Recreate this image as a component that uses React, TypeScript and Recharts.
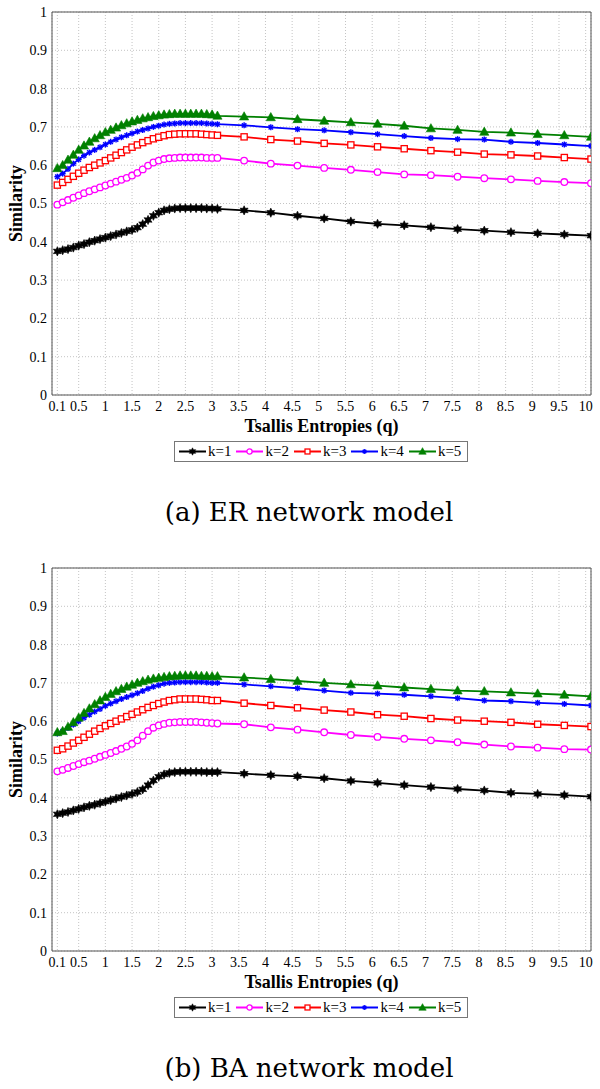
import React from 'react';
import { LineChart, Line, XAxis, YAxis, CartesianGrid, Legend, Label } from 'recharts';

const Q = [0.1, 0.2, 0.3, 0.4, 0.5, 0.6, 0.7, 0.8, 0.9, 1.0, 1.1, 1.2, 1.3, 1.4, 1.5, 1.6, 1.7, 1.8, 1.9, 2.0, 2.1, 2.2, 2.3, 2.4, 2.5, 2.6, 2.7, 2.8, 2.9, 3.0, 3.1, 3.6, 4.1, 4.6, 5.1, 5.6, 6.1, 6.6, 7.1, 7.6, 8.1, 8.6, 9.1, 9.6, 10.1];

const X_MAJOR = [0.1, 0.5, 1, 1.5, 2, 2.5, 3, 3.5, 4, 4.5, 5, 5.5, 6, 6.5, 7, 7.5, 8, 8.5, 9, 9.5, 10];
const X_MINOR = [0.1, 0.25, 0.5, 0.75, 1, 1.25, 1.5, 1.75, 2, 2.25, 2.5, 2.75, 3, 3.25, 3.5, 3.75, 4, 4.25, 4.5, 4.75, 5, 5.25, 5.5, 5.75, 6, 6.25, 6.5, 6.75, 7, 7.25, 7.5, 7.75, 8, 8.25, 8.5, 8.75, 9, 9.25, 9.5, 9.75, 10];
const Y_MAJOR = [0, 0.1, 0.2, 0.3, 0.4, 0.5, 0.6, 0.7, 0.8, 0.9, 1];
const Y_MINOR = [0, 0.05, 0.1, 0.15, 0.2, 0.25, 0.3, 0.35, 0.4, 0.45, 0.5, 0.55, 0.6, 0.65, 0.7, 0.75, 0.8, 0.85, 0.9, 0.95, 1];

// (a) ER network model
const ER_K1 = [0.375, 0.378, 0.381, 0.385, 0.390, 0.394, 0.399, 0.403, 0.407, 0.411, 0.415, 0.419, 0.423, 0.427, 0.431, 0.437, 0.446, 0.457, 0.468, 0.476, 0.482, 0.485, 0.487, 0.488, 0.488, 0.488, 0.488, 0.488, 0.487, 0.487, 0.486, 0.482, 0.476, 0.468, 0.461, 0.453, 0.447, 0.443, 0.438, 0.433, 0.429, 0.425, 0.422, 0.419, 0.416];
const ER_K2 = [0.497, 0.503, 0.509, 0.515, 0.521, 0.527, 0.532, 0.537, 0.542, 0.547, 0.552, 0.557, 0.562, 0.567, 0.573, 0.580, 0.589, 0.599, 0.607, 0.612, 0.616, 0.618, 0.619, 0.620, 0.620, 0.620, 0.620, 0.620, 0.619, 0.619, 0.619, 0.612, 0.604, 0.599, 0.593, 0.588, 0.582, 0.576, 0.574, 0.570, 0.566, 0.563, 0.559, 0.556, 0.553];
const ER_K3 = [0.548, 0.555, 0.563, 0.571, 0.579, 0.587, 0.594, 0.600, 0.606, 0.612, 0.619, 0.626, 0.633, 0.640, 0.647, 0.653, 0.659, 0.664, 0.669, 0.673, 0.677, 0.680, 0.681, 0.682, 0.682, 0.682, 0.682, 0.681, 0.680, 0.679, 0.678, 0.674, 0.667, 0.663, 0.657, 0.653, 0.648, 0.643, 0.638, 0.634, 0.629, 0.627, 0.624, 0.620, 0.616];
const ER_K4 = [0.570, 0.578, 0.590, 0.604, 0.615, 0.625, 0.633, 0.640, 0.647, 0.654, 0.661, 0.667, 0.673, 0.678, 0.683, 0.688, 0.692, 0.696, 0.700, 0.703, 0.706, 0.708, 0.709, 0.710, 0.710, 0.710, 0.710, 0.710, 0.709, 0.708, 0.707, 0.704, 0.699, 0.694, 0.691, 0.686, 0.681, 0.676, 0.671, 0.668, 0.667, 0.661, 0.658, 0.654, 0.650];
const ER_K5 = [0.592, 0.600, 0.614, 0.627, 0.640, 0.651, 0.661, 0.670, 0.678, 0.686, 0.692, 0.698, 0.704, 0.709, 0.714, 0.718, 0.722, 0.725, 0.728, 0.730, 0.732, 0.733, 0.734, 0.734, 0.734, 0.734, 0.734, 0.734, 0.733, 0.732, 0.729, 0.727, 0.725, 0.720, 0.716, 0.712, 0.708, 0.703, 0.696, 0.692, 0.687, 0.685, 0.681, 0.678, 0.674];

// (b) BA network model
const BA_K1 = [0.357, 0.360, 0.363, 0.367, 0.371, 0.375, 0.379, 0.382, 0.386, 0.390, 0.394, 0.398, 0.402, 0.406, 0.410, 0.415, 0.422, 0.433, 0.445, 0.455, 0.461, 0.465, 0.467, 0.468, 0.468, 0.468, 0.468, 0.468, 0.467, 0.467, 0.467, 0.463, 0.459, 0.456, 0.451, 0.444, 0.439, 0.433, 0.428, 0.423, 0.419, 0.413, 0.410, 0.407, 0.403];
const BA_K2 = [0.469, 0.473, 0.478, 0.483, 0.488, 0.493, 0.497, 0.502, 0.507, 0.512, 0.517, 0.522, 0.528, 0.534, 0.541, 0.550, 0.562, 0.574, 0.583, 0.589, 0.593, 0.596, 0.597, 0.598, 0.598, 0.598, 0.598, 0.597, 0.596, 0.595, 0.594, 0.592, 0.584, 0.578, 0.571, 0.564, 0.559, 0.554, 0.550, 0.545, 0.539, 0.534, 0.531, 0.527, 0.526];
const BA_K3 = [0.524, 0.528, 0.535, 0.543, 0.550, 0.558, 0.566, 0.574, 0.581, 0.588, 0.594, 0.600, 0.606, 0.612, 0.618, 0.624, 0.630, 0.636, 0.641, 0.646, 0.650, 0.654, 0.656, 0.658, 0.658, 0.658, 0.658, 0.657, 0.656, 0.654, 0.654, 0.647, 0.641, 0.635, 0.629, 0.624, 0.617, 0.613, 0.607, 0.603, 0.600, 0.597, 0.592, 0.589, 0.586];
const BA_K4 = [0.568, 0.574, 0.582, 0.591, 0.600, 0.609, 0.617, 0.625, 0.632, 0.640, 0.646, 0.652, 0.658, 0.663, 0.668, 0.673, 0.679, 0.685, 0.690, 0.694, 0.698, 0.700, 0.701, 0.702, 0.702, 0.702, 0.702, 0.702, 0.701, 0.700, 0.700, 0.696, 0.691, 0.686, 0.680, 0.674, 0.672, 0.669, 0.665, 0.660, 0.654, 0.652, 0.648, 0.645, 0.641];
const BA_K5 = [0.571, 0.574, 0.585, 0.597, 0.609, 0.621, 0.633, 0.644, 0.654, 0.663, 0.671, 0.678, 0.684, 0.690, 0.695, 0.700, 0.704, 0.708, 0.711, 0.713, 0.715, 0.717, 0.718, 0.719, 0.719, 0.719, 0.719, 0.718, 0.718, 0.717, 0.717, 0.714, 0.710, 0.705, 0.700, 0.696, 0.693, 0.688, 0.684, 0.680, 0.678, 0.675, 0.672, 0.669, 0.665];

const SERIES_KEYS = ['k1', 'k2', 'k3', 'k4', 'k5'];
const SERIES_NAMES = ['k=1', 'k=2', 'k=3', 'k=4', 'k=5'];
const SERIES_COLORS = ['#000000', '#ff00ff', '#ff0000', '#0000ff', '#008000'];
const SERIES_MARKERS = ['hexagram', 'circle', 'square', 'asterisk', 'triangle'];

const CAPTION_A = '(a) ER network model';
const CAPTION_B = '(b) BA network model';
const X_TITLE = 'Tsallis Entropies (q)';
const Y_TITLE = 'Similarity';

const SERIF = '"Liberation Serif", "Times New Roman", serif';
const AXIS_COLOR = '#555';

function buildRows(series: number[][]) {
  return Q.map((q, i) => {
    const row: any = { q };
    SERIES_KEYS.forEach((k, j) => {
      row[k] = series[j][i];
    });
    return row;
  });
}

function Marker({ kind, cx, cy, color, s = 1 }: { kind: string; cx: number; cy: number; color: string; s?: number }) {
  if (cx == null || cy == null || isNaN(cx) || isNaN(cy)) return null;
  switch (kind) {
    case 'hexagram': {
      const ro = 4.6 * s;
      const ri = 2.4 * s;
      const pts: string[] = [];
      for (let i = 0; i < 12; i++) {
        const a = ((-90 + i * 30) * Math.PI) / 180;
        const r = i % 2 === 0 ? ro : ri;
        pts.push(`${cx + r * Math.cos(a)},${cy + r * Math.sin(a)}`);
      }
      return <polygon points={pts.join(' ')} fill={color} stroke={color} strokeWidth={0.6} />;
    }
    case 'circle':
      return <circle cx={cx} cy={cy} r={3.3 * s} fill="#fff" stroke={color} strokeWidth={1.3} />;
    case 'square': {
      const h = 3.1 * s;
      return <rect x={cx - h} y={cy - h} width={2 * h} height={2 * h} fill="#fff" stroke={color} strokeWidth={1.3} />;
    }
    case 'asterisk': {
      const r = 3 * s;
      const d = 2.2 * s;
      return (
        <g stroke={color} strokeWidth={1.4}>
          <line x1={cx - r} y1={cy} x2={cx + r} y2={cy} />
          <line x1={cx} y1={cy - r} x2={cx} y2={cy + r} />
          <line x1={cx - d} y1={cy - d} x2={cx + d} y2={cy + d} />
          <line x1={cx - d} y1={cy + d} x2={cx + d} y2={cy - d} />
        </g>
      );
    }
    case 'triangle': {
      const pts = `${cx},${cy - 4.8 * s} ${cx - 4.6 * s},${cy + 3.4 * s} ${cx + 4.6 * s},${cy + 3.4 * s}`;
      return <polygon points={pts} fill={color} stroke={color} strokeWidth={0.6} />;
    }
    default:
      return null;
  }
}

function XTick(props: any) {
  const { x, y, payload } = props;
  return (
    <text x={x} y={y} dy="0.71em" textAnchor="middle" style={{ fontFamily: SERIF, fontSize: 14, fill: '#000' }}>
      {String(payload.value)}
    </text>
  );
}

function YTick(props: any) {
  const { x, y, payload } = props;
  return (
    <text x={x} y={y} dy="0.355em" textAnchor="end" style={{ fontFamily: SERIF, fontSize: 14, fill: '#000' }}>
      {String(payload.value)}
    </text>
  );
}

function LegendBox() {
  return (
    <div
      style={{
        boxSizing: 'border-box',
        width: 294,
        height: 21,
        border: '1px solid #777',
        background: '#fff',
        display: 'flex',
        alignItems: 'center',
        paddingLeft: 4,
        fontFamily: SERIF,
        fontSize: 15,
        color: '#000',
      }}
    >
      {SERIES_KEYS.map((k, i) => (
        <div key={k} style={{ display: 'flex', alignItems: 'center', marginRight: i < 4 ? 5 : 0 }}>
          <svg width={27} height={19} style={{ display: 'block' }}>
            <line x1={0} y1={9.5} x2={27} y2={9.5} stroke={SERIES_COLORS[i]} strokeWidth={2} />
            <Marker kind={SERIES_MARKERS[i]} cx={13.5} cy={9.5} color={SERIES_COLORS[i]} s={0.8} />
          </svg>
          <span style={{ marginLeft: 2, lineHeight: '19px' }}>{SERIES_NAMES[i]}</span>
        </div>
      ))}
    </div>
  );
}

function Panel({ top, series, caption }: { top: number; series: number[][]; caption: string }) {
  const rows = buildRows(series);
  const titleStyle = { fontFamily: SERIF, fontSize: 18, fontWeight: 'bold', fill: '#000' } as any;
  return (
    <div style={{ position: 'absolute', left: 0, top, width: 600, height: 540 }}>
      <LineChart width={600} height={470} data={rows} margin={{ top: 12, right: 9, bottom: 35, left: 0 }}>
        <CartesianGrid stroke="#c4c4c4" strokeDasharray="1 2" xAxisId={0} yAxisId={0} />
        <XAxis
          xAxisId={0}
          dataKey="q"
          type="number"
          domain={[0, 10.1]}
          allowDataOverflow
          ticks={X_MAJOR}
          interval={0}
          tickLine={false}
          tickSize={0}
          tickMargin={6}
          height={40}
          axisLine={{ stroke: AXIS_COLOR }}
          tick={<XTick />}
        >
          <Label value={X_TITLE} position="insideBottom" offset={3} style={titleStyle} />
        </XAxis>
        <XAxis
          xAxisId="bm"
          type="number"
          domain={[0, 10.1]}
          allowDataOverflow
          ticks={X_MINOR}
          interval={0}
          orientation="bottom"
          mirror
          tick={false}
          tickSize={4}
          axisLine={false}
          tickLine={{ stroke: AXIS_COLOR }}
        />
        <XAxis
          xAxisId="tm"
          type="number"
          domain={[0, 10.1]}
          allowDataOverflow
          ticks={X_MINOR}
          interval={0}
          orientation="top"
          mirror
          tick={false}
          tickSize={4}
          axisLine={{ stroke: AXIS_COLOR }}
          tickLine={{ stroke: AXIS_COLOR }}
        />
        <YAxis
          yAxisId={0}
          type="number"
          domain={[0, 1]}
          allowDataOverflow
          ticks={Y_MAJOR}
          interval={0}
          width={52}
          tickLine={false}
          tickSize={0}
          tickMargin={5}
          axisLine={{ stroke: AXIS_COLOR }}
          tick={<YTick />}
        >
          <Label value={Y_TITLE} angle={-90} position="insideLeft" offset={16} style={{ ...titleStyle, textAnchor: 'middle' }} />
        </YAxis>
        <YAxis
          yAxisId="lm"
          type="number"
          domain={[0, 1]}
          allowDataOverflow
          ticks={Y_MINOR}
          interval={0}
          orientation="left"
          mirror
          tick={false}
          tickSize={4}
          axisLine={false}
          tickLine={{ stroke: AXIS_COLOR }}
        />
        <YAxis
          yAxisId="rm"
          type="number"
          domain={[0, 1]}
          allowDataOverflow
          ticks={Y_MINOR}
          interval={0}
          orientation="right"
          mirror
          tick={false}
          tickSize={4}
          axisLine={{ stroke: AXIS_COLOR }}
          tickLine={{ stroke: AXIS_COLOR }}
        />
        <Legend
          layout="horizontal"
          verticalAlign="middle"
          align="center"
          wrapperStyle={{ left: 174, top: 441, width: 294, height: 21 }}
          content={() => <LegendBox />}
        />
        {SERIES_KEYS.map((k, i) => (
          <Line
            key={k}
            xAxisId={0}
            yAxisId={0}
            type="linear"
            dataKey={k}
            name={SERIES_NAMES[i]}
            stroke={SERIES_COLORS[i]}
            strokeWidth={1.8}
            isAnimationActive={false}
            activeDot={false}
            dot={(p: any) => (
              <Marker key={`${k}-${p.index}`} kind={SERIES_MARKERS[i]} cx={p.cx} cy={p.cy} color={SERIES_COLORS[i]} />
            )}
          />
        ))}
      </LineChart>
      <div
        style={{
          position: 'absolute',
          left: 18,
          width: 582,
          top: 497,
          textAlign: 'center',
          fontFamily: '"DejaVu Serif", serif',
          fontSize: 26,
          lineHeight: '30px',
          color: '#000',
        }}
      >
        {caption}
      </div>
    </div>
  );
}

export default function App() {
  return (
    <div style={{ position: 'absolute', left: 0, top: 0, width: 600, height: 1089, background: '#fff', overflow: 'hidden' }}>
      <Panel top={0} series={[ER_K1, ER_K2, ER_K3, ER_K4, ER_K5]} caption={CAPTION_A} />
      <Panel top={556} series={[BA_K1, BA_K2, BA_K3, BA_K4, BA_K5]} caption={CAPTION_B} />
    </div>
  );
}
